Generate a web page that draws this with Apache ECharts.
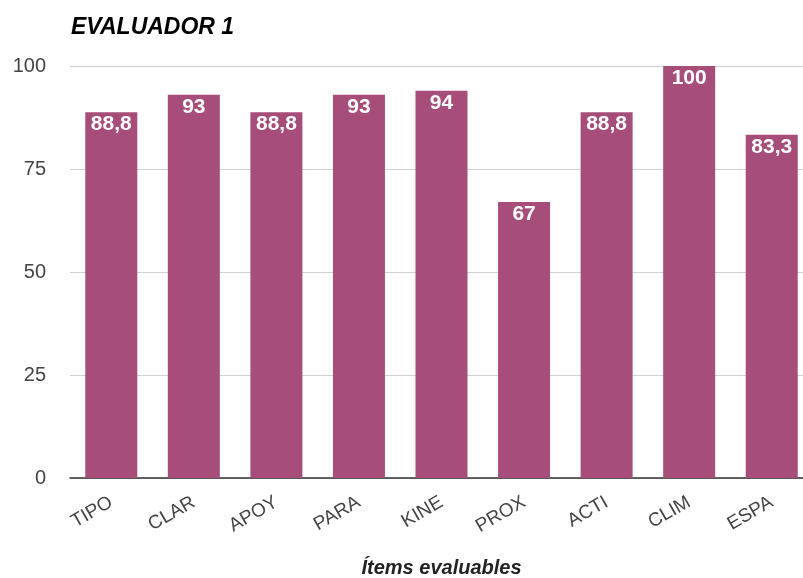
<!DOCTYPE html>
<html>
<head>
<meta charset="utf-8">
<script src="https://cdn.jsdelivr.net/npm/echarts@6/dist/echarts.min.js"></script>
<style>
  html, body { margin: 0; padding: 0; background: #fff; }
  #chart { width: 803px; height: 578px; }
</style>
</head>
<body>
<div id="chart"></div>
<script>
const categories = ["TIPO", "CLAR", "APOY", "PARA", "KINE", "PROX", "ACTI", "CLIM", "ESPA"];
const scores = [88.8, 93, 88.8, 93, 94, 67, 88.8, 100, 83.3];
const yTicks = [0, 25, 50, 75, 100];

const chart = echarts.init(document.getElementById("chart"));
const option = {
  animation: false,
  title: {
    text: "EVALUADOR 1",
    left: 66,
    top: 11,
    textStyle: {
      fontFamily: "Liberation Sans",
      fontSize: 23,
      fontWeight: "bold",
      fontStyle: "italic",
      color: "#000"
    }
  },
  grid: {
    left: 70,
    width: 743,
    top: 66,
    bottom: 100,
    outerBoundsMode: "none",
    containLabel: false
  },
  xAxis: {
    type: "category",
    data: categories,
    name: "Ítems evaluables",
    nameLocation: "middle",
    nameGap: 80,
    nameTextStyle: {
      fontFamily: "Liberation Sans",
      fontSize: 20,
      fontWeight: "bold",
      fontStyle: "italic",
      color: "#222"
    },
    axisTick: { show: false },
    axisLine: { lineStyle: { color: "#333", width: 1.5 } },
    axisLabel: {
      rotate: 30,
      margin: 23,
      fontFamily: "Liberation Sans",
      fontSize: 19,
      color: "#444",
      interval: 0
    }
  },
  yAxis: {
    type: "value",
    min: yTicks[0],
    max: yTicks[yTicks.length - 1],
    interval: 25,
    axisLine: { show: false },
    axisTick: { show: false },
    axisLabel: {
      margin: 24,
      fontFamily: "Liberation Sans",
      fontSize: 20,
      color: "#444"
    },
    splitLine: { lineStyle: { color: "#d0d0d0", width: 1 } }
  },
  series: [
    {
      type: "bar",
      data: scores,
      barWidth: 52,
      itemStyle: { color: "#A64D79" },
      label: {
        show: true,
        position: "insideTop",
        distance: 2,
        fontFamily: "Liberation Sans",
        fontSize: 21,
        fontWeight: "bold",
        color: "#fff",
        formatter: (p) => String(p.value).replace(".", ",")
      }
    }
  ]
};
chart.setOption(option);
</script>
</body>
</html>
